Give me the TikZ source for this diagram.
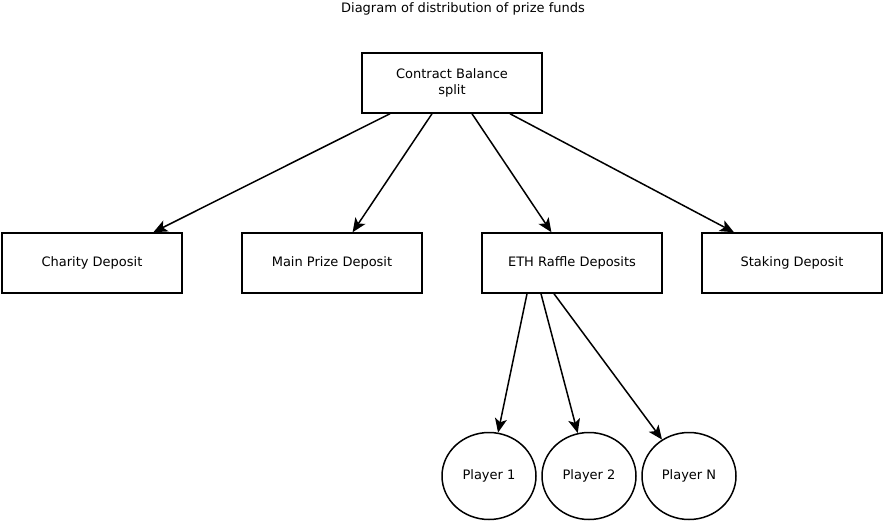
\documentclass[tikz,border=0pt]{standalone}
\usepackage{fontspec}
\setmainfont{DejaVu Sans}
\usetikzlibrary{arrows.meta,shapes.geometric}
\begin{document}
\begin{tikzpicture}[x=1pt,y=-1pt,
    font=\fontsize{13}{16}\selectfont,
    fund/.style={draw,line width=1.5pt,minimum width=180pt,minimum height=60pt,inner sep=0pt,align=center},
    player/.style={draw,ellipse,line width=1.5pt,minimum width=94pt,minimum height=87pt,inner sep=0pt},
    flow/.style={-{Stealth[length=14pt,width=12pt,inset=3.5pt]},line width=1.5pt}]
  \useasboundingbox (0,0) rectangle (883,522);
  \node (title) at (463,9) {Diagram of distribution of prize funds};
  \node[fund] (split) at (452,83) {Contract Balance\\split};
  \node[fund] (charity) at (92,263) {Charity Deposit};
  \node[fund] (main) at (332,263) {Main Prize Deposit};
  \node[fund] (raffle) at (572,263) {ETH Raffle Deposits};
  \node[fund] (staking) at (792,263) {Staking Deposit};
  \node[player] (p1) at (489,476) {Player 1};
  \node[player] (p2) at (589,476) {Player 2};
  \node[player] (pn) at (689,476) {Player N};
  \begin{scope}[flow]
    \draw ([xshift=-62pt]split.south) to (charity);
    \draw ([xshift=-20pt]split.south) to (main);
    \draw ([xshift=20pt]split.south) to (raffle);
    \draw ([xshift=58pt]split.south) to (staking);
    \draw ([xshift=-45pt]raffle.south) to (p1);
    \draw ([xshift=-31pt]raffle.south) to (p2);
    \draw ([xshift=-18pt]raffle.south) to (pn);
  \end{scope}
\end{tikzpicture}
\end{document}
